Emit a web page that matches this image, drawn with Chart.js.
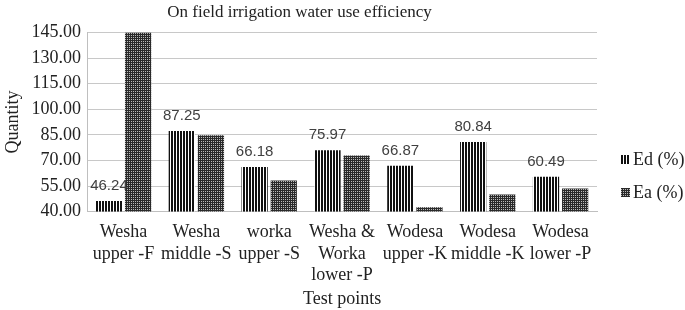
<!DOCTYPE html>
<html>
<head>
<meta charset="utf-8">
<script src="https://cdn.jsdelivr.net/npm/chart.js@4/dist/chart.umd.min.js"></script>
<style>
  html, body { margin: 0; padding: 0; background: #fff; }
  #wrap { width: 685px; height: 310px; position: relative; }
</style>
</head>
<body>
<div id="wrap"><canvas id="efficiency"></canvas></div>
<script>
// data
const categories = [
  ['Wesha', 'upper -F'],
  ['Wesha', 'middle -S'],
  ['worka', 'upper -S'],
  ['Wesha &', 'Worka', 'lower -P'],
  ['Wodesa', 'upper -K'],
  ['Wodesa', 'middle -K'],
  ['Wodesa', 'lower -P']
];
const edValues = [46.24, 87.25, 66.18, 75.97, 66.87, 80.84, 60.49];
const eaValues = [145.0, 84.8, 58.2, 72.8, 42.6, 50.0, 53.6];
const seriesNames = ['Ed (%)', 'Ea (%)'];

const serif = "'Liberation Serif', 'Times New Roman', serif";

// fill patterns: vertical stripes for Ed, dense dots for Ea
function stripePattern() {
  const c = document.createElement('canvas');
  c.width = 3; c.height = 3;
  const g = c.getContext('2d');
  g.fillStyle = '#fff';
  g.fillRect(0, 0, 3, 3);
  g.fillStyle = '#111';
  g.fillRect(0, 0, 2, 3);
  return g.createPattern(c, 'repeat');
}
function dotPattern() {
  const c = document.createElement('canvas');
  c.width = 2; c.height = 2;
  const g = c.getContext('2d');
  g.fillStyle = '#2a2a2a';
  g.fillRect(0, 0, 2, 2);
  g.fillStyle = '#bbb';
  g.fillRect(1, 1, 1, 1);
  return g.createPattern(c, 'repeat');
}

const ctx = document.getElementById('efficiency').getContext('2d');
const fills = [stripePattern(), dotPattern()];

// value labels above the Ed bars
const edLabels = {
  id: 'edLabels',
  afterDatasetsDraw(chart) {
    const meta = chart.getDatasetMeta(0);
    const c = chart.ctx;
    c.save();
    c.font = "15px 'Liberation Sans', Arial, sans-serif";
    c.fillStyle = '#404040';
    c.textAlign = 'center';
    c.textBaseline = 'middle';
    meta.data.forEach((bar, i) => {
      c.fillText(edValues[i].toFixed(2), bar.x, bar.y - 15);
    });
    c.restore();
  }
};

// legend to the right of the plot
const sideLegend = {
  id: 'sideLegend',
  afterDraw(chart) {
    const c = chart.ctx;
    const area = chart.chartArea;
    c.save();
    c.font = '18px ' + serif;
    c.textBaseline = 'middle';
    seriesNames.forEach((name, i) => {
      const y = 160 + i * 33;
      const x = area.right + 24;
      c.fillStyle = fills[i];
      c.fillRect(x, y - 5, 9, 9);
      c.fillStyle = '#222';
      c.fillText(name, x + 12, y);
    });
    c.restore();
  }
};

const efficiencyChart = new Chart(ctx, {
  type: 'bar',
  data: {
    labels: categories,
    datasets: [
      {
        label: seriesNames[0],
        data: edValues,
        backgroundColor: fills[0],
        borderWidth: 0
      },
      {
        label: seriesNames[1],
        data: eaValues,
        backgroundColor: fills[1],
        borderWidth: 0
      }
    ]
  },
  options: {
    responsive: true,
    maintainAspectRatio: false,
    animation: false,
    layout: {
      padding: { top: 0, right: 88, bottom: 0, left: 2 }
    },
    plugins: {
      legend: { display: false },
      tooltip: { enabled: false },
      title: {
        display: true,
        text: 'On field irrigation water use efficiency',
        font: { size: 17, family: serif, weight: 'normal' },
        color: '#222',
        padding: { top: 2, bottom: 10 }
      }
    },
    scales: {
      x: {
        grid: { display: false },
        border: { display: true, color: '#bfbfbf' },
        categoryPercentage: 0.55,
        barPercentage: 1.0,
        ticks: {
          font: { size: 18, family: serif, lineHeight: 1.2 },
          color: '#222',
          maxRotation: 0,
          autoSkip: false,
          padding: 2
        },
        title: {
          display: true,
          text: 'Test points',
          font: { size: 18, family: serif },
          color: '#222',
          padding: { top: 0, bottom: 0 }
        }
      },
      y: {
        min: 40,
        max: 145,
        grid: { color: '#c8c8c8', lineWidth: 1, drawTicks: false },
        border: { display: true, color: '#bfbfbf' },
        ticks: {
          stepSize: 15,
          autoSkip: false,
          font: { size: 18, family: serif },
          color: '#222',
          padding: 6,
          callback: (v) => v.toFixed(2)
        },
        title: {
          display: true,
          text: 'Quantity',
          font: { size: 18, family: serif },
          color: '#222',
          padding: { top: 0, bottom: 2 }
        }
      }
    }
  },
  plugins: [edLabels, sideLegend]
});
</script>
</body>
</html>
